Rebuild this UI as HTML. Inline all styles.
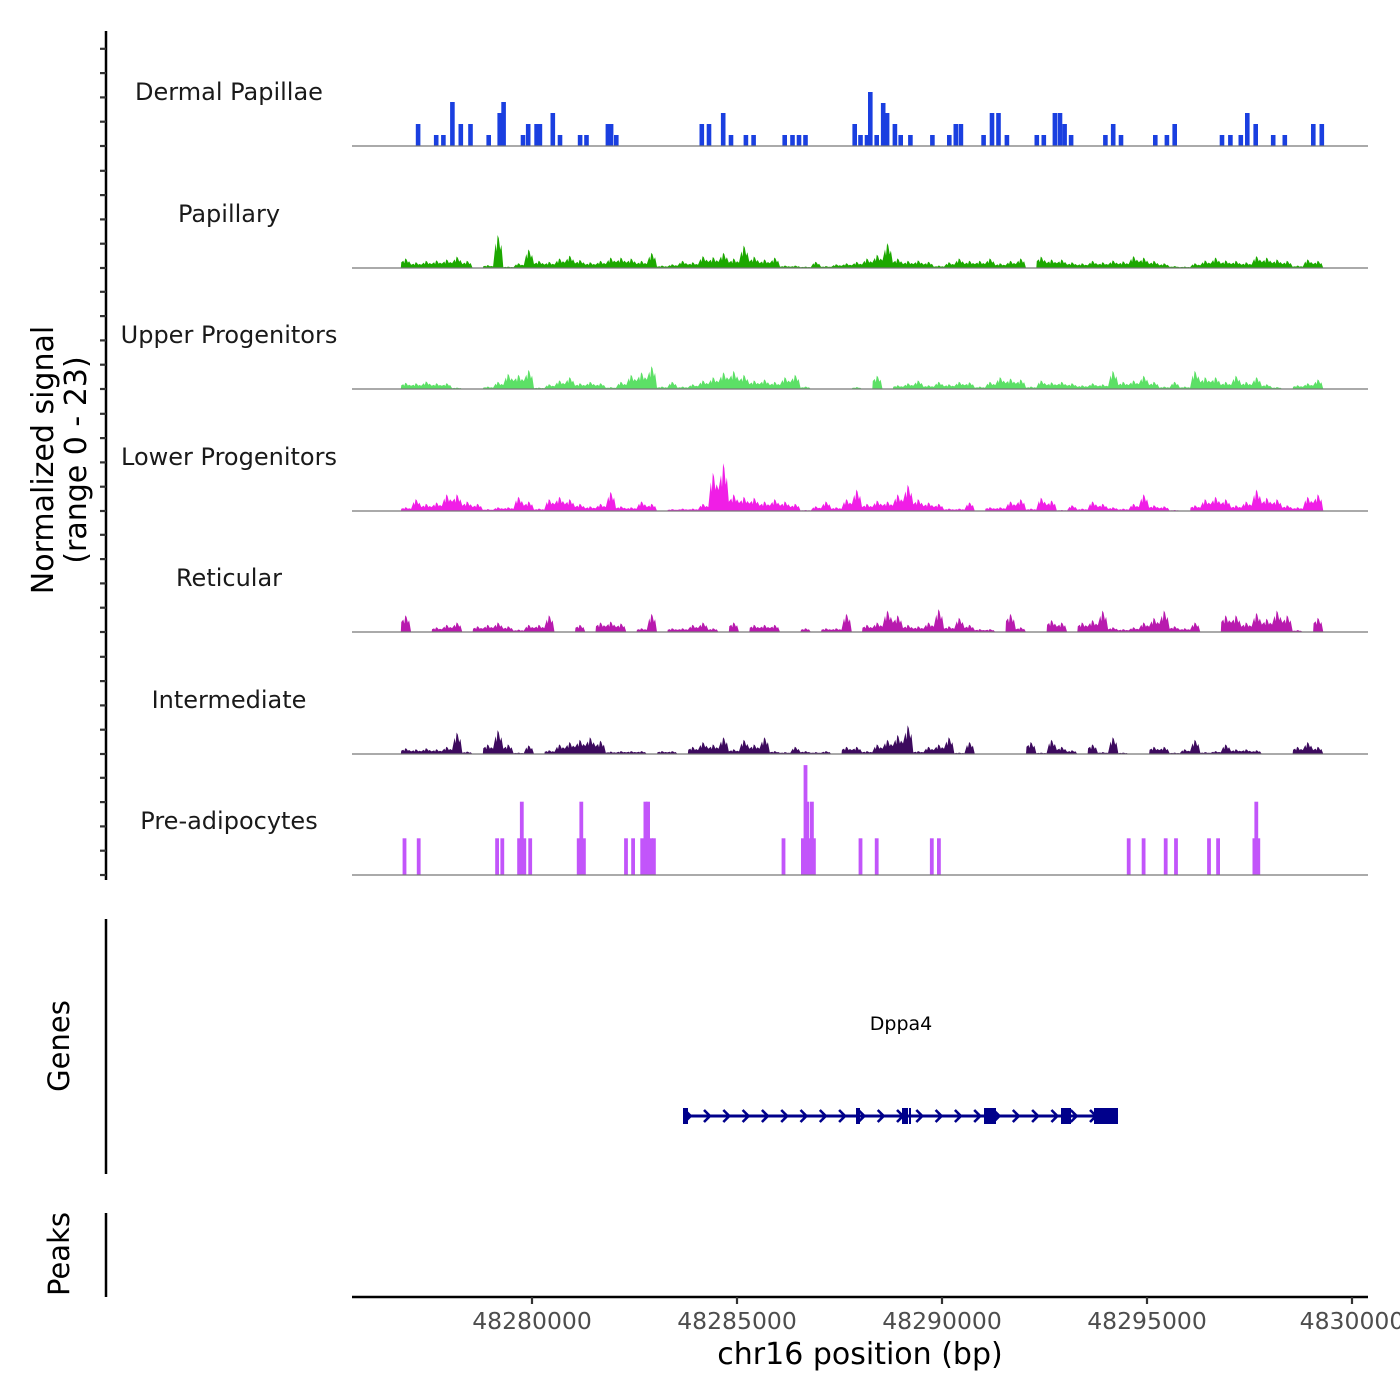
<!DOCTYPE html>
<html><head><meta charset="utf-8">
<style>
html,body{margin:0;padding:0;background:#fff;}
svg{display:block;font-family:"DejaVu Sans","Liberation Sans",sans-serif;}
</style></head>
<body>
<svg id="chart" width="1400" height="1400" viewBox="0 0 1400 1400" xmlns="http://www.w3.org/2000/svg">
<rect x="0" y="0" width="1400" height="1400" fill="#fff"/>
<g id="left"></g>
<g id="tracks"></g>
<g id="gene"></g>
<g id="xaxis"></g>
<text x="0" y="0" transform="translate(53,460) rotate(-90)" font-size="30" text-anchor="middle" fill="#000">Normalized signal</text>
<text x="0" y="0" transform="translate(86,460) rotate(-90)" font-size="30" text-anchor="middle" fill="#000">(range 0 - 23)</text>
<text x="0" y="0" transform="translate(69,1046) rotate(-90)" font-size="29" text-anchor="middle" fill="#000">Genes</text>
<text x="0" y="0" transform="translate(69,1254) rotate(-90)" font-size="29" text-anchor="middle" fill="#000">Peaks</text>
<text x="860" y="1364" font-size="30" text-anchor="middle" fill="#000">chr16 position (bp)</text>
</svg>
<script>
// ---- data ----
const trackNames = ["Dermal Papillae","Papillary","Upper Progenitors","Lower Progenitors","Reticular","Intermediate","Pre-adipocytes"];
const trackColors = ["#1a3fe0","#1ca800","#5ce066","#f01ee6","#b81aae","#3d0a5e","#c255fa"];
const binStart = 48276800;
const binWidth = 250;
const papillaryVals = [2.0,1.2,1.5,1.6,1.8,2.4,1.5,0,0.6,6.9,0.3,1.0,3.9,1.5,1.3,2.0,2.6,1.7,1.2,1.5,2.2,2.2,2.0,1.5,3.2,0.5,0.8,1.5,1.2,2.5,2.3,3.2,2.0,4.7,2.4,1.8,2.2,0.5,0.5,0.3,1.3,0.4,0.8,1.0,1.3,2.0,2.8,5.2,2.0,1.5,1.6,1.3,0.5,1.2,2.0,1.5,1.5,2.0,1.0,1.5,2.0,0,2.4,1.8,1.8,1.2,1.0,1.5,1.2,1.6,1.4,2.5,2.2,1.5,1.0,0.4,0.3,1.0,1.6,2.2,1.6,1.5,1.2,2.5,2.2,1.8,1.5,0.5,1.8,1.5];
const upperVals = [1.3,1.2,1.6,1.2,1.2,0.3,0,0,0.5,1.5,3.2,3.0,4.0,0.3,1.0,1.8,2.5,1.2,1.5,1.2,0.4,1.5,3.0,3.5,4.8,0.5,1.5,0.5,1.0,1.8,2.5,3.5,3.8,3.0,1.8,2.0,1.5,2.5,3.0,0.5,0,0,0,0,0.4,0,2.8,0,0.8,1.2,1.8,0.8,1.5,1.0,1.5,1.4,0.5,1.5,2.5,2.2,2.0,0.5,1.8,1.4,1.5,1.2,0.8,1.2,1.0,3.8,1.5,1.8,2.8,1.5,0.5,1.5,0.5,3.8,2.5,2.5,1.5,2.8,1.5,2.5,1.0,0.4,0,0.8,1.2,2.0];
const lowerVals = [0.8,2.5,1.5,1.8,3.5,3.5,2.0,1.5,0.4,0.8,0.8,3.0,2.0,0.5,2.5,3.0,2.5,1.5,1.0,1.5,4.0,1.0,0.8,2.0,1.5,0,0.4,0.5,0.5,1.5,8.0,10.0,3.5,3.0,2.8,2.0,2.5,2.0,1.5,0.2,1.0,2.0,0.8,2.5,4.5,1.5,2.2,2.0,3.5,5.5,2.5,1.8,1.5,0.5,0.5,1.8,0,0.8,0.8,2.0,2.5,0.5,2.8,2.2,0.2,1.2,0.5,2.0,1.5,0.8,0.5,1.5,3.5,1.2,1.0,0.2,0,1.2,2.5,3.0,2.5,1.2,2.0,4.5,2.8,2.5,1.2,0.8,3.0,3.5];
const reticularVals = [3.5,0,0,1.0,1.5,2.0,0,1.2,1.5,2.0,1.2,0.5,1.5,1.5,3.5,0,0,1.5,0,2.0,2.2,1.8,0,0.8,3.8,0,0.8,0.8,1.5,2.0,0.8,0,2.0,0,1.5,1.5,1.5,0,0,0.8,0,0.8,0.8,3.8,0,1.5,2.0,4.5,3.5,1.5,1.2,2.0,4.8,1.2,3.0,1.5,0.6,0.6,0,3.8,1.0,0,0,2.5,2.0,0,2.0,2.5,4.5,1.0,0.6,1.0,2.0,3.0,4.5,1.2,0.8,2.0,0,0,3.5,3.5,2.0,4.0,2.8,4.5,3.5,0.4,0,3.0];
const intermediateVals = [1.2,1.0,1.2,1.0,1.5,4.5,0.5,0,2.0,5.0,2.0,0.3,1.8,0,0.8,2.0,2.5,3.0,3.5,2.8,0.5,0.6,0.6,0.6,0,0.6,0.6,0,1.5,2.5,2.0,3.5,1.0,3.0,2.0,3.5,0.6,0.4,1.5,0.6,0.4,0.6,0,1.5,1.5,0.6,2.0,3.0,4.0,6.0,0.6,1.5,2.0,3.5,0.3,2.5,0,0,0,0,0,2.5,0.3,3.0,1.5,0.8,0,2.0,0.4,3.5,0.3,0,0,1.5,1.5,0.3,1.0,3.0,0.4,0.6,2.0,1.0,1.0,0.8,0,0,0,1.5,2.5,1.5];
const dermalPos = [48277222,48277664,48277838,48278059,48278264,48278501,48278944,48279212,48279307,48279781,48279908,48280113,48280192,48280508,48280682,48281172,48281330,48281851,48281930,48282056,48284142,48284316,48284663,48284853,48285216,48285406,48286164,48286354,48286512,48286670,48287871,48288013,48288171,48288250,48288408,48288566,48288661,48288850,48288993,48289230,48289767,48290178,48290336,48290462,48291015,48291220,48291378,48291584,48292311,48292484,48292753,48292879,48292990,48293148,48293985,48294175,48294365,48295202,48295486,48295676,48296829,48297035,48297288,48297446,48297651,48298078,48298362,48299057,48299263];
const dermalVals = [4.6,2.3,2.3,9.2,4.6,4.6,2.3,6.9,9.2,2.3,4.6,4.6,4.6,6.9,2.3,2.3,2.3,4.6,4.6,2.3,4.6,4.6,6.9,2.3,2.3,2.3,2.3,2.3,2.3,2.3,4.6,2.3,2.3,11.3,2.3,9.0,6.9,4.6,2.3,2.3,2.3,2.3,4.6,4.6,2.3,6.9,6.9,2.3,2.3,2.3,6.9,6.9,4.6,2.3,2.3,4.6,2.3,2.3,2.3,4.6,2.3,2.3,2.3,6.9,4.6,2.3,2.3,4.6,4.6];
const preadiPos = [48276890,48277237,48279149,48279276,48279686,48279750,48279813,48279955,48281140,48281203,48281266,48282293,48282467,48282688,48282767,48282831,48282910,48282973,48286133,48286607,48286670,48286717,48286796,48286828,48286875,48288013,48288408,48289751,48289925,48294554,48294918,48295455,48295708,48296513,48296735,48297619,48297667,48297714];
const preadiVals = [7.67,7.67,7.67,7.67,7.67,15.33,7.67,7.67,7.67,15.33,7.67,7.67,7.67,7.67,15.33,15.33,7.67,7.67,7.67,7.67,23,15.33,7.67,15.33,7.67,7.67,7.67,7.67,7.67,7.67,7.67,7.67,7.67,7.67,7.67,7.67,15.33,7.67];
const xTicks = [48280000,48285000,48290000,48295000,48300000];
const xTickLabels = ["48280000","48285000","48290000","48295000","4830000"];
const geneName = "Dppa4";
const geneStart = 48283700;
const geneEnd = 48294293;
const exonStarts = [48283683,48287902,48289024,48289195,48291024,48292902,48293707];
const exonEnds = [48283805,48288000,48289170,48289240,48291317,48293146,48294293];

// ---- scales ----
const NS = "http://www.w3.org/2000/svg";
function xs(bp){ return 532 + (bp - 48280000) * 0.041; }
const baselines = [146,268,389,511,632,754,875];
const pxPerUnit = 4.78;
function ys(v, t){ return baselines[t] - v * pxPerUnit; }
function mk(tag, attrs, parent){
  const e = document.createElementNS(NS, tag);
  for (const k in attrs) e.setAttribute(k, attrs[k]);
  parent.appendChild(e);
  return e;
}
const tracksG = document.getElementById('tracks');
const leftG = document.getElementById('left');

// left axis
let ax = mk('line',{x1:106,y1:31,x2:106,y2:880,stroke:'#000','stroke-width':2.5},leftG);


for (let t=0;t<7;t++){
  for (let k=0;k<5;k++){
    const y = baselines[t] - k*24.3;
    const tk = mk('line',{x1:100,y1:y,x2:106,y2:y,stroke:'#333','stroke-width':2.2},leftG);
    
    
  }
}
let ga = mk('line',{x1:106,y1:919,x2:106,y2:1174,stroke:'#000','stroke-width':2.5},leftG);


let pa = mk('line',{x1:106,y1:1213,x2:106,y2:1297,stroke:'#000','stroke-width':2.5},leftG);



// track labels
for (let t=0;t<7;t++){
  const lb = mk('text',{x:229,y:baselines[t]-46,'font-size':24,'text-anchor':'middle',fill:'#1a1a1a'},tracksG);
  lb.textContent = trackNames[t];
  
  
}

function binnedPath(vals, t){
  const b = baselines[t];
  let d = '';
  let open = false;
  for (let i=0;i<vals.length;i++){
    const v = vals[i];
    const x0 = xs(binStart + i*binWidth), x1 = xs(binStart + (i+1)*binWidth);
    const xc = (x0+x1)/2;
    if (v <= 0){ if (open){ d += 'L'+x0.toFixed(1)+','+b+'Z'; open=false; } continue; }
    if (!open){ d += 'M'+x0.toFixed(1)+','+b+'L'+(x0+0.5).toFixed(1)+','+ys(v*0.6,t).toFixed(1); open=true; }
    d += 'L'+(x0+2.5).toFixed(1)+','+ys(v*0.75,t).toFixed(1)+'L'+(x0+3.5).toFixed(1)+','+ys(v*0.5,t).toFixed(1)
       +'L'+(xc-0.6).toFixed(1)+','+ys(v,t).toFixed(1)+'L'+(xc+0.6).toFixed(1)+','+ys(v*0.9,t).toFixed(1)
       +'L'+(xc+2).toFixed(1)+','+ys(v*0.55,t).toFixed(1)+'L'+(xc+3.2).toFixed(1)+','+ys(v*0.7,t).toFixed(1);
    const nv = i+1<vals.length ? vals[i+1] : 0;
    d += 'L'+x1.toFixed(1)+','+ys(Math.min(v,nv)*0.55,t).toFixed(1);
  }
  if (open) d += 'L'+xs(binStart+vals.length*binWidth).toFixed(1)+','+b+'Z';
  return d;
}
function drawBinned(vals, t){
  const p = mk('path',{d:binnedPath(vals,t),fill:trackColors[t],stroke:'none'},tracksG);
  
  
}
function drawSparse(pos, vals, t, halfw){
  for (let i=0;i<pos.length;i++){
    const x = xs(pos[i]);
    const r = mk('rect',{x:(x-halfw).toFixed(1),y:ys(vals[i],t).toFixed(1),width:(2*halfw).toFixed(1),height:(vals[i]*pxPerUnit).toFixed(1),fill:trackColors[t]},tracksG);
    
    
  }
}
drawSparse(dermalPos, dermalVals, 0, 2.3);
drawBinned(papillaryVals, 1);
drawBinned(upperVals, 2);
drawBinned(lowerVals, 3);
drawBinned(reticularVals, 4);
drawBinned(intermediateVals, 5);
drawSparse(preadiPos, preadiVals, 6, 1.9);
for (let t=0;t<7;t++){
  const bl = mk('line',{x1:352,y1:baselines[t],x2:1368,y2:baselines[t],stroke:'#777','stroke-width':1.2},tracksG);
  
  
}

// gene track
const geneG = document.getElementById('gene');
const gy = 1116;
const gl = mk('text',{x:901,y:1030,'font-size':19,'text-anchor':'middle',fill:'#000'},geneG);
gl.textContent = geneName;


const gline = mk('line',{x1:xs(geneStart),y1:gy,x2:xs(geneEnd),y2:gy,stroke:'#00008b','stroke-width':3},geneG);


for (let cx = xs(geneStart)+4; cx < xs(geneEnd)-8; cx += 19.3){
  const ch = mk('polyline',{points:(cx-3)+','+(gy-6)+' '+(cx+3)+','+gy+' '+(cx-3)+','+(gy+6),fill:'none',stroke:'#00008b','stroke-width':2.6},geneG);
  
  
}
for (let i=0;i<exonStarts.length;i++){
  const x0 = xs(exonStarts[i]), x1 = xs(exonEnds[i]);
  const ex = mk('rect',{x:x0.toFixed(1),y:gy-8,width:Math.max(2,x1-x0).toFixed(1),height:16,fill:'#00008b'},geneG);
  
  
}

// x axis
const xg = document.getElementById('xaxis');
const xl = mk('line',{x1:352,y1:1297,x2:1368,y2:1297,stroke:'#000','stroke-width':2.5},xg);


for (let i=0;i<xTicks.length;i++){
  const x = xs(xTicks[i]);
  const tk = mk('line',{x1:x,y1:1297,x2:x,y2:1304,stroke:'#333','stroke-width':2.2},xg);
  
  
  const tl = mk('text',{x:x,y:1329,'font-size':23.5,'text-anchor':'middle',fill:'#4d4d4d'},xg);
  tl.textContent = xTickLabels[i];
  
  
}
</script>
</body></html>
